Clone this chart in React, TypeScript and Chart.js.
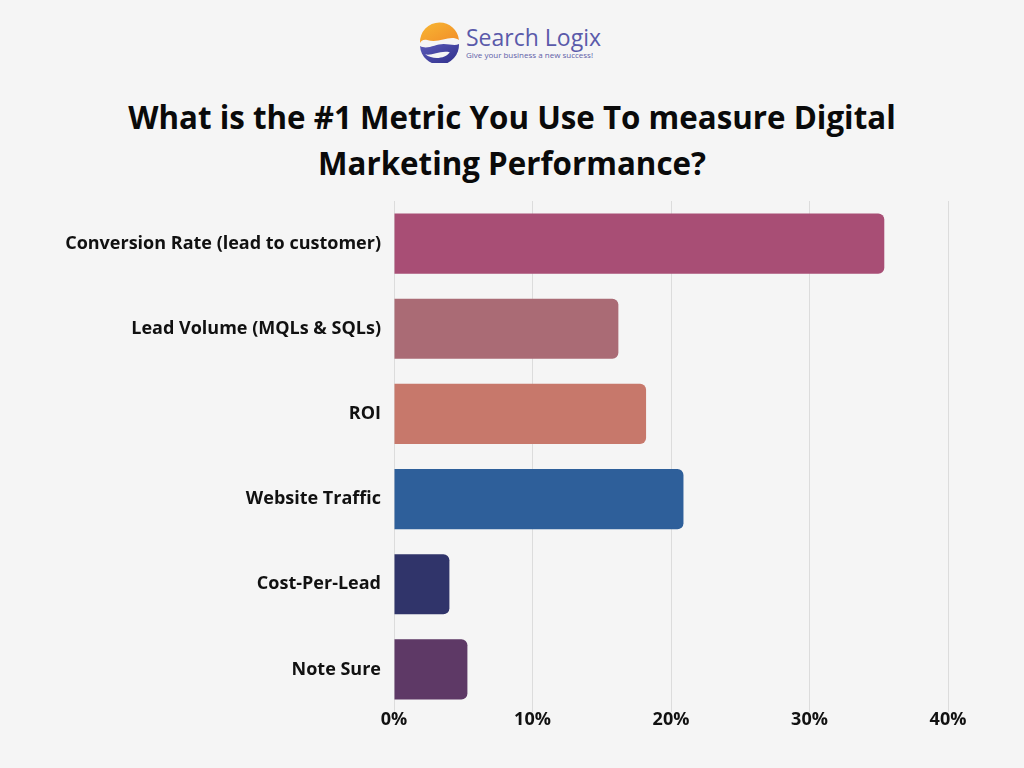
import React, { useEffect, useRef } from "react";
import { Chart, registerables } from "chart.js";

Chart.register(...registerables);

const categories = [
  "Conversion Rate (lead to customer)",
  "Lead Volume (MQLs & SQLs)",
  "ROI",
  "Website Traffic",
  "Cost-Per-Lead",
  "Note Sure",
];
const values = [35.4, 16.2, 18.2, 20.9, 4.0, 5.3];
const barColors = ["#A84E75", "#AA6B75", "#C7786B", "#2E5F9A", "#30346A", "#5E3966"];
const xTicks = [0, 10, 20, 30, 40];
const titleLines = ["What is the #1 Metric You Use To measure Digital", "Marketing Performance?"];

const FONT = "'Open Sans', Inter, sans-serif";

function Logo() {
  return (
    <div style={{ position: "absolute", left: 419, top: 21, display: "flex", alignItems: "center" }}>
      <svg width="41" height="42" viewBox="0 0 40 40">
        <defs>
          <linearGradient id="og" x1="0" y1="0" x2="1" y2="1">
            <stop offset="0" stopColor="#F7B733" />
            <stop offset="1" stopColor="#F28C28" />
          </linearGradient>
          <linearGradient id="pg" x1="0" y1="0" x2="1" y2="1">
            <stop offset="0" stopColor="#5B5BB8" />
            <stop offset="1" stopColor="#2E2E8A" />
          </linearGradient>
        </defs>
        <path d="M20 1 A19 19 0 0 1 39 18 C30 12 20 22 8 18 C4 17 2 19 1 21 A19 19 0 0 1 20 1 Z" fill="url(#og)" />
        <path d="M1 24 C8 28 16 22 24 22 C30 22 35 24 39 22 A19 19 0 0 1 1 24 Z" fill="url(#pg)" />
        <path d="M6 32 C12 34 20 28 30 30 C26 36 14 38 6 32 Z" fill="#f5f5f5" />
      </svg>
      <div style={{ marginLeft: 6, fontFamily: "'Open Sans', sans-serif", color: "#5A5AAA" }}>
        <div style={{ fontSize: 23, lineHeight: "26px", letterSpacing: 0 }}>Search Logix</div>
        <div style={{ fontSize: 8, lineHeight: "10px", color: "#6060A8" }}>Give your business a new success!</div>
      </div>
    </div>
  );
}

export default function App() {
  const ref = useRef<HTMLCanvasElement | null>(null);
  useEffect(() => {
    if (!ref.current) return;
    const chart = new Chart(ref.current, {
      type: "bar",
      data: {
        labels: categories,
        datasets: [
          {
            data: values,
            backgroundColor: barColors,
            borderRadius: { topLeft: 0, bottomLeft: 0, topRight: 6, bottomRight: 6 },
            borderSkipped: false,
            barPercentage: 0.706,
            categoryPercentage: 1,
          },
        ],
      },
      options: {
        indexAxis: "y",
        responsive: false,
        animation: false,
        layout: { padding: { top: 201, right: 76, bottom: 0, left: 0 } },
        plugins: { legend: { display: false }, tooltip: { enabled: false }, title: { display: false } },
        scales: {
          x: {
            min: 0,
            max: 40,
            afterFit: (s: any) => {
              s.height = 56;
            },
            afterBuildTicks: (s: any) => {
              s.ticks = xTicks.map((v) => ({ value: v }));
            },
            grid: { color: "#dcdcdc", lineWidth: 1, drawTicks: false },
            border: { display: false },
            ticks: {
              padding: -3,
              color: "#111",
              font: { family: FONT, size: 18, weight: "bold" },
              callback: (v: any) => v + "%",
            },
          },
          y: {
            afterFit: (s: any) => {
              s.width = 394;
            },
            grid: { display: false, drawTicks: false },
            border: { display: false },
            ticks: {
              padding: 13,
              color: "#111",
              font: { family: FONT, size: 18, weight: "bold" },
            },
          },
        },
      },
    });
    return () => chart.destroy();
  }, []);

  return (
    <div style={{ position: "absolute", left: 0, top: 0, width: 1024, height: 768, background: "#F5F5F5", overflow: "hidden" }}>
      <Logo />
      <div
        style={{
          position: "absolute",
          left: 0,
          top: 94,
          width: 1024,
          textAlign: "center",
          fontFamily: FONT,
          fontWeight: 700,
          fontSize: 31.3,
          lineHeight: "46px",
          color: "#0a0a0a",
        }}
      >
        {titleLines.map((l, i) => (
          <div key={i}>{l}</div>
        ))}
      </div>
      <canvas ref={ref} width={1024} height={768} style={{ position: "absolute", left: 0, top: 0 }} />
    </div>
  );
}
